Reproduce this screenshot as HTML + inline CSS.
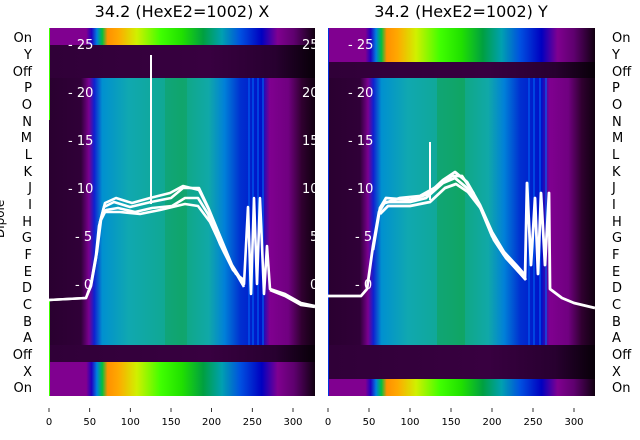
<!DOCTYPE html>
<html><head><meta charset="utf-8"><style>
html,body{margin:0;padding:0;background:#fff;}
svg{display:block;font-family:"DejaVu Sans","Liberation Sans",sans-serif;}
</style></head><body>
<svg width="640" height="440" viewBox="0 0 640 440" xmlns="http://www.w3.org/2000/svg">
<defs>
<linearGradient id="rb" x1="0" x2="1" y1="0" y2="0">
<stop offset="0" stop-color="#800090"/><stop offset="0.14" stop-color="#800090"/>
<stop offset="0.16" stop-color="#2000c0"/><stop offset="0.18" stop-color="#0080e0"/>
<stop offset="0.2" stop-color="#00c040"/><stop offset="0.22" stop-color="#ff9000"/>
<stop offset="0.26" stop-color="#ffa800"/><stop offset="0.33" stop-color="#d0f000"/>
<stop offset="0.42" stop-color="#40ff00"/><stop offset="0.5" stop-color="#20e000"/>
<stop offset="0.58" stop-color="#00a040"/><stop offset="0.65" stop-color="#00a0b0"/>
<stop offset="0.72" stop-color="#0050e0"/><stop offset="0.8" stop-color="#0000c0"/>
<stop offset="0.86" stop-color="#800090"/><stop offset="0.92" stop-color="#600070"/>
<stop offset="1" stop-color="#100010"/>
</linearGradient>
<linearGradient id="dt" x1="0" x2="1" y1="0" y2="0">
<stop offset="0" stop-color="#2a0030"/><stop offset="0.12" stop-color="#300038"/>
<stop offset="0.15" stop-color="#7a0090"/><stop offset="0.17" stop-color="#1020d0"/>
<stop offset="0.2" stop-color="#0090d0"/><stop offset="0.3" stop-color="#10a8b0"/>
<stop offset="0.45" stop-color="#10a890"/><stop offset="0.5" stop-color="#10a880"/>
<stop offset="0.6" stop-color="#10a8a8"/><stop offset="0.66" stop-color="#0080d8"/>
<stop offset="0.72" stop-color="#0030d0"/><stop offset="0.8" stop-color="#0010c8"/>
<stop offset="0.83" stop-color="#800090"/><stop offset="0.9" stop-color="#700080"/>
<stop offset="0.95" stop-color="#300030"/><stop offset="1" stop-color="#100010"/>
</linearGradient>
<linearGradient id="dk" x1="0" x2="1" y1="0" y2="0">
<stop offset="0" stop-color="#300038"/><stop offset="0.6" stop-color="#380040"/>
<stop offset="0.85" stop-color="#280030"/><stop offset="1" stop-color="#080008"/>
</linearGradient>
</defs>

<text x="182" y="17" font-size="16" text-anchor="middle">34.2 (HexE2=1002) X</text>
<text x="461" y="17" font-size="16" text-anchor="middle">34.2 (HexE2=1002) Y</text>

<rect x="49" y="28" width="266" height="17" fill="url(#rb)"/>
<rect x="49" y="45" width="266" height="33" fill="url(#dk)"/>
<rect x="49" y="78" width="266" height="267" fill="url(#dt)"/>
<rect x="165" y="78" width="22" height="267" fill="#10a040" opacity="0.3"/>
<rect x="49" y="345" width="266" height="17" fill="url(#dk)"/>
<rect x="49" y="362" width="266" height="34" fill="url(#rb)"/>
<g stroke="#0060f0" stroke-width="1.2"><line x1="249" y1="78" x2="249" y2="345"/><line x1="253" y1="78" x2="253" y2="345"/><line x1="258" y1="78" x2="258" y2="345"/><line x1="263" y1="78" x2="263" y2="345"/></g>
<line x1="49.5" y1="28" x2="49.5" y2="120" stroke="#40ff00"/>
<line x1="49.5" y1="300" x2="49.5" y2="396" stroke="#40ff00"/>

<rect x="328" y="28" width="267" height="34" fill="url(#rb)"/>
<rect x="328" y="62" width="267" height="16" fill="url(#dk)"/>
<rect x="328" y="78" width="267" height="267" fill="url(#dt)"/>
<rect x="437" y="78" width="28" height="267" fill="#10a030" opacity="0.35"/>
<rect x="328" y="345" width="267" height="34" fill="url(#dk)"/>
<rect x="328" y="379" width="267" height="17" fill="url(#rb)"/>
<g stroke="#0060f0" stroke-width="1.2"><line x1="529" y1="78" x2="529" y2="345"/><line x1="534" y1="78" x2="534" y2="345"/><line x1="540" y1="78" x2="540" y2="345"/><line x1="546" y1="78" x2="546" y2="345"/></g>

<g fill="#fff" font-size="13">
<text x="68" y="49">- 25</text><text x="68" y="97">- 20</text><text x="68" y="145">- 15</text>
<text x="68" y="193">- 10</text><text x="75" y="241">- 5</text><text x="75" y="289">- 0</text>
<text x="302" y="49">25</text><text x="302" y="97">20</text><text x="302" y="145">15</text>
<text x="302" y="193">10</text><text x="310" y="241">5</text><text x="310" y="289">0</text>
<text x="348" y="49">- 25</text><text x="348" y="97">- 20</text><text x="348" y="145">- 15</text>
<text x="348" y="193">- 10</text><text x="355" y="241">- 5</text><text x="355" y="289">- 0</text>
</g>
<rect x="315" y="28" width="13" height="368" fill="#fff"/>
<line x1="328.5" y1="28" x2="328.5" y2="396" stroke="#0030e0"/>

<g fill="none" stroke="#fff" stroke-width="2.6" stroke-linejoin="round">
<polyline points="49,300 86,298 91,284 96,255 99,226 104,207 114,202 130,207 151,202 171,198 183,188 199,188 208,207 220,236 232,265 244,284 248,207 251,294 254,198 257,284 260,198 264,294 267,246 270,289 285,294 301,303 315,306"/>
<polyline points="49,300 86,298 91,286 96,258 100,222 105,203 116,198 132,203 150,198 170,193 183,186 199,190 209,210 221,240 233,268 244,287"/>
<polyline points="91,284 97,252 101,220 106,210 118,208 135,212 152,208 172,206 185,198 198,198 208,214 220,244 233,270 244,282"/>
<polyline points="104,212 120,212 140,214 160,210 185,204 198,206 210,222 224,252 236,274 244,280"/>
<polyline points="270,290 285,296 301,305 315,307"/>
</g>
<line x1="151" y1="204" x2="151" y2="55" stroke="#fff" stroke-width="2"/>

<g fill="none" stroke="#fff" stroke-width="2.8" stroke-linejoin="round">
<polyline points="328,296 361,296 367,289 373,246 379,212 385,202 410,202 426,198 443,183 455,178 467,188 480,207 492,236 504,255 517,270 525,279 527,183 531,265 535,198 538,274 541,193 545,265 549,193 550,289 562,298 574,303 595,308"/>
<polyline points="373,250 380,208 386,198 410,200 428,194 443,180 455,172 467,182 480,205 492,232 504,252 517,266 525,275"/>
<polyline points="380,214 388,206 410,206 430,202 445,188 456,184 468,192 482,210 494,240 506,258 519,272 526,280"/>
<polyline points="382,204 400,198 420,196 438,186 452,176 462,176 474,194"/>
</g>
<line x1="430" y1="200" x2="430" y2="142" stroke="#fff" stroke-width="2"/>

<g font-size="13" text-anchor="end" fill="#000">
<text x="32" y="42">On</text><text x="32" y="59">Y</text><text x="32" y="76">Off</text>
<text x="32" y="92">P</text><text x="32" y="109">O</text><text x="32" y="126">N</text>
<text x="32" y="142">M</text><text x="32" y="159">L</text><text x="32" y="176">K</text>
<text x="32" y="192">J</text><text x="32" y="209">I</text><text x="32" y="226">H</text>
<text x="32" y="242">G</text><text x="32" y="259">F</text><text x="32" y="276">E</text>
<text x="32" y="292">D</text><text x="32" y="309">C</text><text x="32" y="326">B</text>
<text x="32" y="342">A</text><text x="32" y="359">Off</text><text x="32" y="376">X</text>
<text x="32" y="392">On</text>
</g>
<text x="0" y="0" font-size="12" transform="translate(4,238) rotate(-90)">Dipole</text>
<g font-size="13" fill="#000">
<text x="612" y="42">On</text><text x="612" y="59">Y</text><text x="612" y="76">Off</text>
<text x="612" y="92">P</text><text x="612" y="109">O</text><text x="612" y="126">N</text>
<text x="612" y="142">M</text><text x="612" y="159">L</text><text x="612" y="176">K</text>
<text x="612" y="192">J</text><text x="612" y="209">I</text><text x="612" y="226">H</text>
<text x="612" y="242">G</text><text x="612" y="259">F</text><text x="612" y="276">E</text>
<text x="612" y="292">D</text><text x="612" y="309">C</text><text x="612" y="326">B</text>
<text x="612" y="342">A</text><text x="612" y="359">Off</text><text x="612" y="376">X</text>
<text x="612" y="392">On</text>
</g>

<g stroke="#000" stroke-width="0.8">
<line x1="49" y1="408" x2="49" y2="412"/><line x1="89.7" y1="408" x2="89.7" y2="412"/><line x1="130.3" y1="408" x2="130.3" y2="412"/><line x1="171" y1="408" x2="171" y2="412"/><line x1="211.6" y1="408" x2="211.6" y2="412"/><line x1="252.3" y1="408" x2="252.3" y2="412"/><line x1="293" y1="408" x2="293" y2="412"/>
<line x1="328" y1="408" x2="328" y2="412"/><line x1="369" y1="408" x2="369" y2="412"/><line x1="410" y1="408" x2="410" y2="412"/><line x1="451" y1="408" x2="451" y2="412"/><line x1="492" y1="408" x2="492" y2="412"/><line x1="533" y1="408" x2="533" y2="412"/><line x1="574" y1="408" x2="574" y2="412"/>
</g>
<g font-size="10" text-anchor="middle" fill="#000">
<text x="49" y="425">0</text><text x="89.7" y="425">50</text><text x="130.3" y="425">100</text><text x="171" y="425">150</text><text x="211.6" y="425">200</text><text x="252.3" y="425">250</text><text x="293" y="425">300</text>
<text x="328" y="425">0</text><text x="369" y="425">50</text><text x="410" y="425">100</text><text x="451" y="425">150</text><text x="492" y="425">200</text><text x="533" y="425">250</text><text x="574" y="425">300</text>
</g>
</svg>
</body></html>
